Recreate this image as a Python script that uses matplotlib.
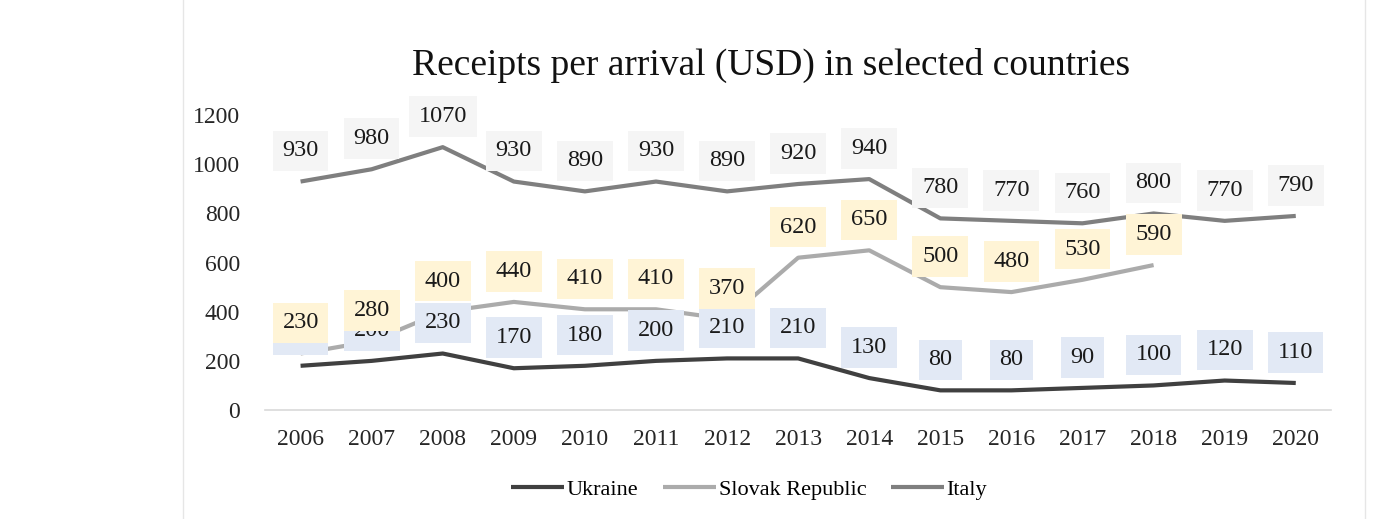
import matplotlib
matplotlib.use("Agg")
from matplotlib import pyplot as plt
from matplotlib.lines import Line2D

years = [2006, 2007, 2008, 2009, 2010, 2011, 2012, 2013, 2014, 2015, 2016, 2017, 2018, 2019, 2020]
ukraine = [180, 200, 230, 170, 180, 200, 210, 210, 130, 80, 80, 90, 100, 120, 110]
slovak = [230, 280, 400, 440, 410, 410, 370, 620, 650, 500, 480, 530, 590, None, None]
italy = [930, 980, 1070, 930, 890, 930, 890, 920, 940, 780, 770, 760, 800, 770, 790]

series = [
    ("Ukraine", ukraine, "#404040", "#e2e9f5", 4),
    ("Slovak Republic", slovak, "#ababab", "#fff4d6", 6),
    ("Italy", italy, "#7f7f7f", "#f5f5f5", 5),
]

plt.rcParams['font.family'] = ['Liberation Serif', 'DejaVu Serif']

fig = plt.figure(figsize=(13.92, 5.19), dpi=100)
ax = fig.add_axes([0.1904, 0.21, 0.766, 0.568])

x = list(range(len(years)))
for name, vals, color, box, z in series:
    xs = [i for i, v in zip(x, vals) if v is not None]
    ys = [v for v in vals if v is not None]
    ax.plot(xs, ys, color=color, lw=3, label=name, zorder=2, solid_capstyle='butt')
    for i, v in zip(xs, ys):
        ax.annotate(str(v), (i, v), xytext=(0, 22), textcoords='offset points',
                    ha='center', va='center', fontsize=17.5, color='#1a1a1a', zorder=z,
                    bbox=dict(boxstyle='square,pad=0.4', fc=box, ec='none'))

ax.set_xlim(-0.5, len(years) - 0.5)
ax.set_ylim(0, 1200)
ax.set_yticks(range(0, 1201, 200))
ax.set_xticks(x)
ax.set_xticklabels([str(y) for y in years])
ax.tick_params(axis='both', length=0, labelsize=17, colors='#262626')
ax.tick_params(axis='y', pad=18)
ax.tick_params(axis='x', pad=14)
for s in ['top', 'right', 'left']:
    ax.spines[s].set_visible(False)
ax.spines['bottom'].set_color('#d9d9d9')
ax.spines['bottom'].set_linewidth(1.2)

fig.text(0.554, 0.873, "Receipts per arrival (USD) in selected countries",
         ha='center', va='center', fontsize=27, color='#111111')

fig.legend(loc='center', bbox_to_anchor=(0.538, 0.056), ncol=3, frameon=False,
           fontsize=16, handlelength=2.4, handletextpad=0.12, columnspacing=1.1)

# thin frame edges of the chart panel
fig.add_artist(Line2D([183 / 1392, 183 / 1392], [0, 1], color='#e6e6e6', lw=1))
fig.add_artist(Line2D([1365 / 1392, 1365 / 1392], [0, 1], color='#e6e6e6', lw=1))

fig.savefig("out.png", dpi=100, facecolor='white')
